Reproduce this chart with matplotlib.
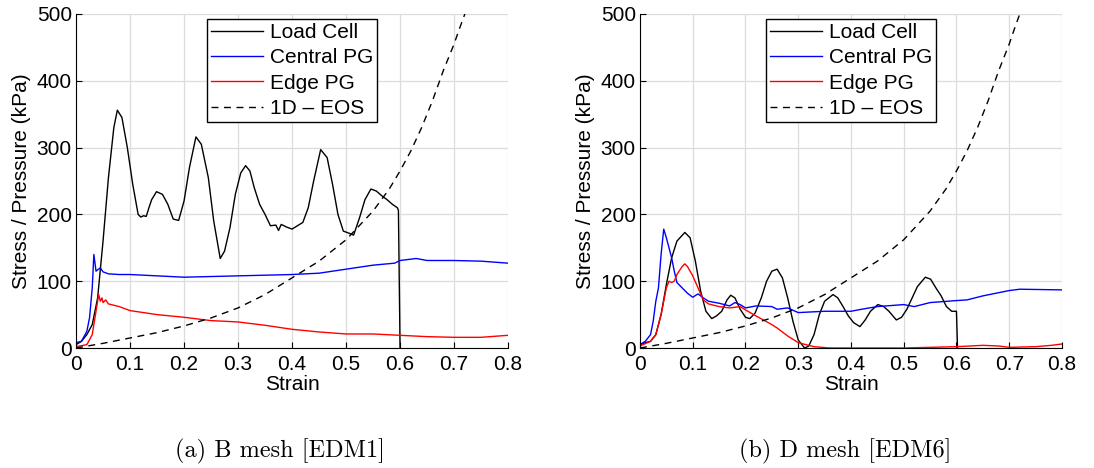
import numpy as np
import matplotlib.pyplot as plt

plt.rcParams['font.family'] = ['Liberation Sans', 'DejaVu Sans']

# --- (a) B mesh [EDM1] ---
a_load_x = [0, 0.01, 0.02, 0.03, 0.04, 0.05, 0.06, 0.07, 0.0765, 0.085, 0.095, 0.105,
            0.115, 0.12, 0.125, 0.13, 0.135, 0.14, 0.149, 0.16, 0.17, 0.18, 0.19, 0.2,
            0.21, 0.222, 0.232, 0.245, 0.255, 0.267, 0.275, 0.285, 0.295, 0.305, 0.314,
            0.322, 0.33, 0.34, 0.35, 0.36, 0.37, 0.375, 0.38, 0.39, 0.4, 0.41, 0.42,
            0.43, 0.44, 0.453, 0.465, 0.475, 0.485, 0.495, 0.505, 0.514, 0.525, 0.535,
            0.546, 0.556, 0.566, 0.576, 0.586, 0.595, 0.597, 0.6]
a_load_y = [5, 10, 20, 35, 75, 160, 255, 330, 356, 345, 300, 245,
            200, 196, 198, 197, 210, 222, 234, 230, 215, 193, 191, 220,
            270, 316, 305, 255, 190, 134, 145, 180, 230, 262, 273,
            265, 240, 215, 200, 183, 184, 176, 185, 181, 178, 183, 188,
            210, 250, 297, 285, 245, 200, 175, 172, 169, 195, 222,
            238, 235, 228, 222, 215, 210, 206, 0]

a_cpg_x = [0, 0.01, 0.02, 0.025, 0.03, 0.033, 0.037, 0.04, 0.045, 0.05, 0.06, 0.08,
           0.1, 0.15, 0.2, 0.25, 0.3, 0.35, 0.4, 0.45, 0.5, 0.55, 0.59, 0.6, 0.62,
           0.63, 0.65, 0.7, 0.75, 0.8]
a_cpg_y = [8, 10, 25, 45, 90, 140, 115, 117, 120, 114, 111, 110,
           110, 108, 106, 107, 108, 109, 110, 112, 118, 124, 127, 131, 133,
           134, 131, 131, 130, 127]

a_epg_x = [0, 0.02, 0.03, 0.035, 0.04, 0.042, 0.045, 0.048, 0.05, 0.055, 0.06, 0.08,
           0.1, 0.15, 0.2, 0.25, 0.3, 0.35, 0.4, 0.45, 0.5, 0.55, 0.6, 0.65, 0.7,
           0.75, 0.8]
a_epg_y = [2, 5, 20, 45, 70, 80, 70, 75, 68, 72, 66, 62,
           56, 50, 46, 41, 39, 34, 28, 24, 21, 21, 19, 17, 16,
           16, 19]

# --- (b) D mesh [EDM6] ---
b_load_x = [0, 0.01, 0.02, 0.03, 0.04, 0.05, 0.06, 0.07, 0.085, 0.095, 0.105, 0.115,
            0.125, 0.136, 0.145, 0.155, 0.165, 0.172, 0.18, 0.19, 0.2, 0.208, 0.218,
            0.23, 0.24, 0.25, 0.26, 0.27, 0.28, 0.29, 0.3, 0.312, 0.32, 0.33, 0.34,
            0.35, 0.366, 0.375, 0.385, 0.395, 0.405, 0.417, 0.427, 0.437, 0.451, 0.462,
            0.472, 0.486, 0.496, 0.506, 0.516, 0.526, 0.541, 0.551, 0.561, 0.571,
            0.581, 0.591, 0.6, 0.602]
b_load_y = [5, 8, 10, 20, 50, 95, 135, 160, 173, 165, 130, 85,
            55, 44, 48, 55, 72, 79, 75, 58, 46, 44, 52,
            75, 100, 115, 118, 105, 75, 40, 12, 0, 3, 20, 50,
            70, 80, 75, 62, 48, 38, 32, 42, 55, 65, 62,
            55, 42, 46, 58, 75, 92, 106, 103, 90, 78,
            62, 55, 55, 0]

b_cpg_x = [0, 0.01, 0.02, 0.025, 0.03, 0.035, 0.04, 0.045, 0.05, 0.06, 0.065, 0.07,
           0.08, 0.09, 0.1, 0.11, 0.12, 0.13, 0.15, 0.17, 0.18, 0.19, 0.2, 0.22,
           0.25, 0.26, 0.28, 0.3, 0.35, 0.4, 0.42, 0.45, 0.5, 0.52, 0.55, 0.6,
           0.62, 0.65, 0.7, 0.72, 0.8]
b_cpg_y = [5, 10, 20, 40, 70, 90, 140, 178, 165, 135, 115, 98,
           90, 82, 76, 81, 75, 70, 67, 63, 68, 65, 60, 63,
           62, 58, 60, 53, 55, 55, 58, 62, 65, 62, 68, 71,
           72, 78, 86, 88, 87]

b_epg_x = [0, 0.02, 0.03, 0.04, 0.05, 0.055, 0.06, 0.065, 0.07, 0.08, 0.085, 0.09,
           0.1, 0.11, 0.12, 0.13, 0.15, 0.17, 0.19, 0.2, 0.22, 0.25, 0.26, 0.28,
           0.3, 0.33, 0.36, 0.4, 0.5, 0.55, 0.6, 0.65, 0.68, 0.7, 0.75, 0.78, 0.8]
b_epg_y = [3, 10, 20, 50, 90, 100, 98, 100, 110, 122, 126, 122,
           108, 90, 72, 66, 62, 60, 62, 57, 48, 35, 30, 18,
           8, 2, 0, 0, 0, 1, 2, 4, 3, 1, 2, 4, 6]

# 1D equation of state (same curve on both panels)
eos_x = [0, 0.05, 0.1, 0.15, 0.2, 0.25, 0.3, 0.35, 0.4, 0.45, 0.5, 0.55, 0.58,
         0.6, 0.62, 0.64, 0.66, 0.68, 0.7, 0.71, 0.72]
eos_y = [0, 7, 15, 23, 33, 45, 60, 80, 105, 130, 162, 205, 238,
         265, 295, 330, 370, 415, 455, 478, 500]

panels = [
    (a_load_x, a_load_y, a_cpg_x, a_cpg_y, a_epg_x, a_epg_y, '(a) B mesh [EDM1]'),
    (b_load_x, b_load_y, b_cpg_x, b_cpg_y, b_epg_x, b_epg_y, '(b) D mesh [EDM6]'),
]

fig = plt.figure(figsize=(10.94, 4.68), dpi=100)
axes_pos = [[0.0695, 0.2564, 0.3949, 0.7137], [0.585, 0.2564, 0.3857, 0.7137]]
caption_x = [0.256, 0.773]

for pos, cx, (lx, ly, cx_, cy, ex, ey, cap) in zip(axes_pos, caption_x, panels):
    ax = fig.add_axes(pos)
    ax.plot(lx, ly, color='black', lw=1.0, label='Load Cell')
    ax.plot(cx_, cy, color='blue', lw=1.0, label='Central PG')
    ax.plot(ex, ey, color='red', lw=1.0, label='Edge PG')
    ax.plot(eos_x, eos_y, color='black', lw=1.0, ls=(0, (5, 4)), label='1D \u2013 EOS')

    ax.set_xlim(0, 0.8)
    ax.set_ylim(0, 500)
    ax.set_xticks(np.arange(0, 0.81, 0.1))
    ax.set_xticklabels(['0', '0.1', '0.2', '0.3', '0.4', '0.5', '0.6', '0.7', '0.8'])
    ax.set_yticks([0, 100, 200, 300, 400, 500])
    ax.tick_params(direction='in', length=4, labelsize=15)
    ax.tick_params(axis='x', pad=5)
    ax.tick_params(axis='y', pad=3)
    ax.grid(True, color='#dcdcdc', lw=0.9)
    ax.set_axisbelow(True)
    for s in ['top', 'right']:
        ax.spines[s].set_visible(False)
    ax.set_xlabel('Strain', fontsize=15, labelpad=1)
    ax.set_ylabel('Stress / Pressure (kPa)', fontsize=15, labelpad=4)

    leg = ax.legend(loc='upper center', bbox_to_anchor=(0.5, 0.985), fontsize=15,
                    fancybox=False, framealpha=1, edgecolor='black',
                    handlelength=2.5, handletextpad=0.3, labelspacing=0.3,
                    borderpad=0.2, borderaxespad=0)
    leg.get_frame().set_linewidth(1.0)

    fig.text(cx, 0.0235, cap, ha='center', va='baseline', fontsize=17.5, family='cmr10')

fig.savefig('out.png', dpi=100)
